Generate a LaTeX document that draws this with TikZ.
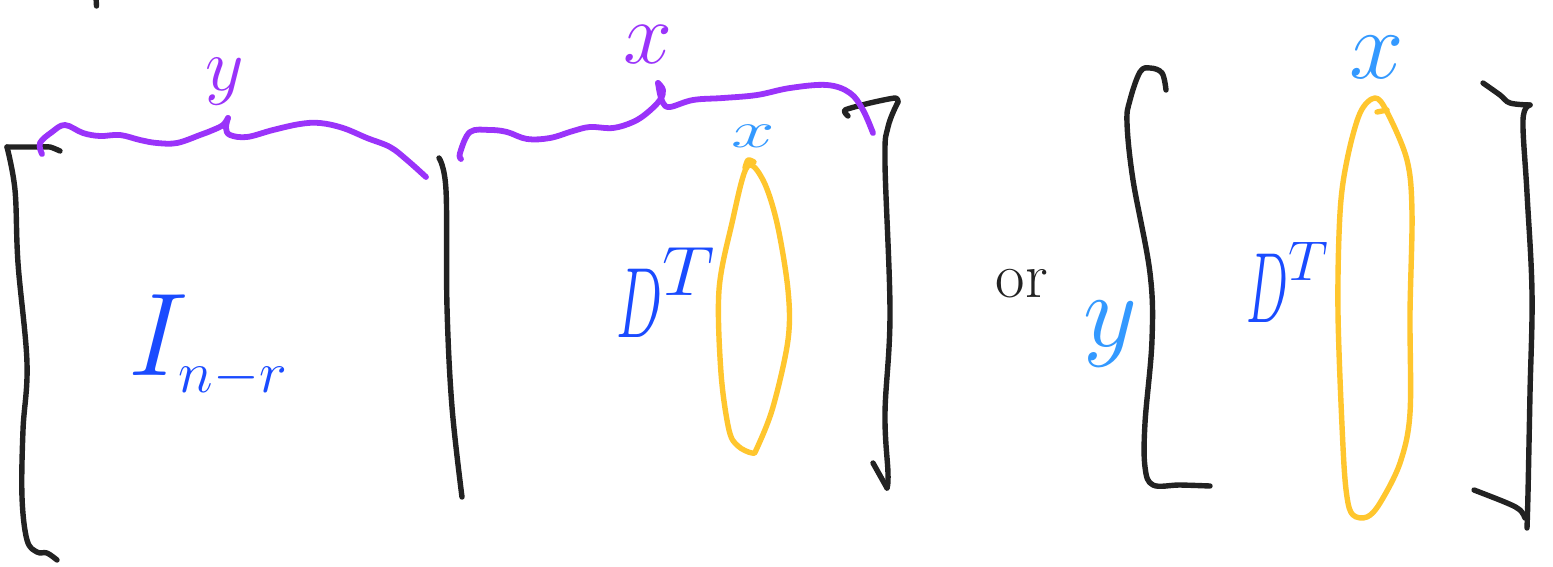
\RequirePackage{fix-cm}
\documentclass[tikz,border=0pt]{standalone}
\definecolor{inkblack}{HTML}{222222}
\definecolor{inkpurple}{HTML}{9A33FA}
\definecolor{inkblue}{HTML}{1A4BFF}
\definecolor{inklight}{HTML}{3399FF}
\definecolor{inkyellow}{HTML}{FFC62E}
\tikzset{
  pen/.style={line width=5.4pt, line cap=round, line join=round},
  blackpen/.style={pen, draw=inkblack},
  purplepen/.style={pen, draw=inkpurple, line width=5.8pt},
  yellowpen/.style={pen, draw=inkyellow, line width=5.4pt},
  lbl/.style={inner sep=0pt, outer sep=0pt},
}
\newcommand{\fs}[1]{\fontsize{#1}{#1}\selectfont}
\begin{document}
\begin{tikzpicture}[x=1pt,y=-1pt]
\useasboundingbox[fill=white] (0,0) rectangle (1553,566);

% small mark at top left
\draw[blackpen] (96,-3) -- (96.5,6);

% left block: bracket
\draw[blackpen] plot[smooth, tension=0.5] coordinates {(60,151) (50,147) (40,147) (7,147)};
\draw[blackpen] plot[smooth, tension=0.6] coordinates {(7,147) (15,190) (18,263) (27,363) (23,430) (22,497) (27,540) (37,552) (47,553) (57,560)};
% separating bar
\draw[blackpen] plot[smooth, tension=0.6] coordinates {(439,158) (446,190) (447,307) (452,407) (462,497)};
% right bracket of first matrix
\draw[blackpen] plot[smooth, tension=0.4] coordinates {(848,116) (845,110) (870,103) (895,98) (898,102)};
\draw[blackpen] plot[smooth, tension=0.6] coordinates {(898,102) (888,127) (885,163) (890,313) (885,413) (888,473) (887,488)};
\draw[blackpen] (873,463) -- (887,488);

% purple brace over I
\draw[purplepen] plot[smooth, tension=0.6] coordinates {(42,154) (40,143) (52,132) (65,125) (83,133) (100,136) (120,135) (140,140) (157,143) (177,143) (200,135) (213,130) (223,125) (228,118)};
\draw[purplepen] plot[smooth, tension=0.6] coordinates {(228,118) (226,128) (230,135) (247,137) (273,130) (300,124) (320,123) (343,128) (367,138) (390,147) (407,160) (426,177)};
% purple brace over D block
\draw[purplepen] plot[smooth, tension=0.6] coordinates {(461,159) (460,153) (470,132) (490,130) (507,132) (527,139) (550,138) (573,131) (590,127) (613,128) (633,122) (647,113) (660,100) (663,90) (658,83)};
\draw[purplepen] plot[smooth, tension=0.6] coordinates {(658,83) (660,94) (663,103) (670,107) (693,100) (723,98) (757,95) (790,88) (827,85) (850,93) (863,110) (873,133)};

% yellow column, first matrix
\draw[yellowpen] plot[smooth, tension=0.5] coordinates {(745,168) (748,160) (754,162)};
\draw[yellowpen] plot[smooth cycle, tension=0.55] coordinates {(747,167) (732,223) (719,290) (721,373) (729,430) (738,446) (752,453) (757,448) (773,407) (788,340) (788,290) (777,223) (763,180)};

% second matrix brackets
\draw[blackpen] plot[smooth, tension=0.6] coordinates {(1166,90) (1162,73) (1150,68) (1140,72) (1130,100) (1127,123) (1133,180) (1150,273) (1152,340) (1145,423) (1145,467) (1153,485) (1180,485) (1210,486)};
\draw[blackpen] plot[smooth, tension=0.6] coordinates {(1483,83) (1500,95) (1510,103) (1530,105)};
\draw[blackpen] plot[smooth, tension=0.6] coordinates {(1530,105) (1523,120) (1527,193) (1532,293) (1530,393) (1528,493) (1527,528)};
\draw[blackpen] plot[smooth, tension=0.6] coordinates {(1474,490) (1507,503) (1520,510) (1525,518)};

% yellow column, second matrix
\draw[yellowpen] plot[smooth cycle, tension=0.55] coordinates {(1375,98) (1387,112) (1407,160) (1412,213) (1410,313) (1410,413) (1400,463) (1380,503) (1367,517) (1353,515) (1347,497) (1343,447) (1338,313) (1340,213) (1347,160) (1360,113)};
\draw[yellowpen] (1377,112) -- (1387,110);

% labels
\node[lbl, text=inkpurple, anchor=base] (ly) at (225,90) {\fs{75}$y$};
\node[lbl, text=inkpurple, anchor=base] (lx) at (648,63) {\fs{88}$x$};
\node[lbl, text=inklight, anchor=base] (cx1) at (753,147) {\fs{52}\scalebox{1.5}[1]{$x$}};
\node[lbl, text=inkblue, anchor=base west] (ident) at (128,375) {\fs{118}$I_{\scriptscriptstyle n-r}$};
\node[lbl, text=inkblue, anchor=base west] (d1) at (616,337) {\fs{100}$\scalebox{0.55}[1]{$D$}^{\scalebox{1.05}[1]{$\scriptstyle T$}}$};
\node[lbl, text=inkblack, anchor=base] (or) at (1022,297) {\fs{64}or};
\node[lbl, text=inklight, anchor=base] (ry) at (1110,346) {\fs{105}$y$};
\node[lbl, text=inkblue, anchor=base west] (d2) at (1246,322) {\fs{100}$\scalebox{0.5}[1]{$D$}^{\scalebox{0.8}{$\scriptstyle T$}}$};
\node[lbl, text=inklight, anchor=base] (cx2) at (1377,78) {\fs{98}$x$};
\end{tikzpicture}
\end{document}
